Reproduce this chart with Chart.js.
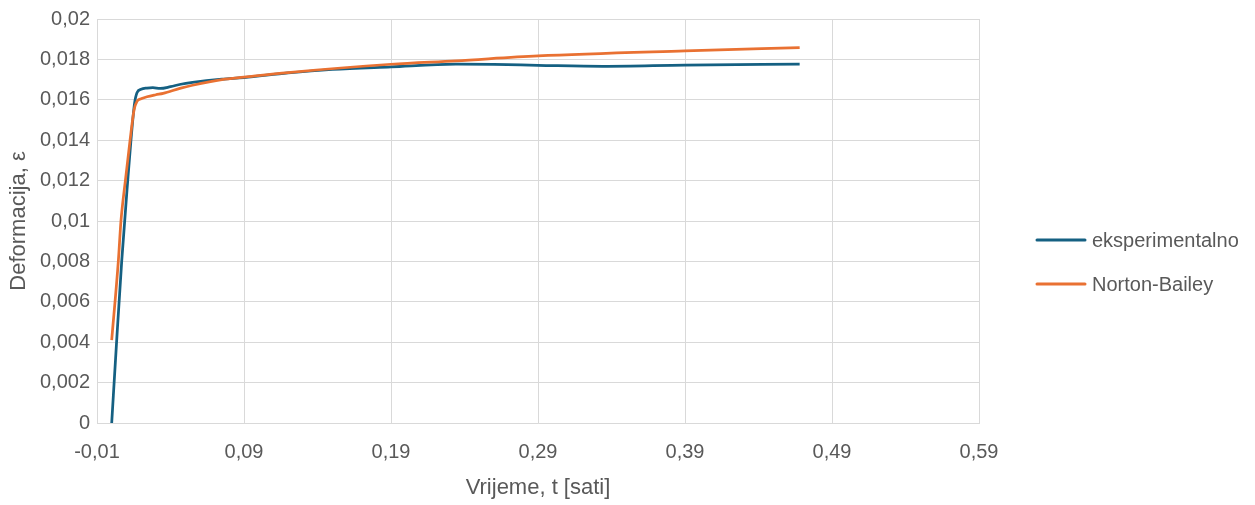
<!DOCTYPE html>
<html>
<head>
<meta charset="utf-8">
<script src="https://cdn.jsdelivr.net/npm/chart.js@4/dist/chart.umd.min.js"></script>
<style>
  html, body { margin: 0; padding: 0; background: #ffffff; }
  #wrap { width: 1255px; height: 505px; position: relative; }
</style>
</head>
<body>
<div id="wrap"><canvas id="c" width="1255" height="505"></canvas></div>
<script>
// ---- data ----
const seriesNames = ["eksperimentalno", "Norton-Bailey"];
const expTime   = [0, 0.0034, 0.0068, 0.0109, 0.0131, 0.0155, 0.0172, 0.020, 0.024, 0.028, 0.033, 0.040, 0.047, 0.055, 0.075, 0.09, 0.12, 0.15, 0.19, 0.234, 0.26, 0.29, 0.334, 0.39, 0.468];
const expStrain = [0, 0.0041, 0.0080, 0.0120, 0.0140, 0.0158, 0.01635, 0.01652, 0.01658, 0.01660, 0.01656, 0.01665, 0.01677, 0.01686, 0.01702, 0.0171, 0.01733, 0.0175, 0.01763, 0.01776, 0.01775, 0.01771, 0.01766, 0.01772, 0.01777];
const nbTime    = [0, 0.0045, 0.0063, 0.0093, 0.0125, 0.0152, 0.0172, 0.020, 0.024, 0.030, 0.035, 0.047, 0.055, 0.075, 0.09, 0.12, 0.19, 0.234, 0.29, 0.39, 0.468];
const nbStrain  = [0.0041, 0.0080, 0.0100, 0.0120, 0.0140, 0.0155, 0.01592, 0.01605, 0.01615, 0.01625, 0.01632, 0.01658, 0.01672, 0.01700, 0.01712, 0.01735, 0.01776, 0.01793, 0.01817, 0.01842, 0.01858];
const xTicks = [-0.01, 0.09, 0.19, 0.29, 0.39, 0.49, 0.59];
const yTicks = [0, 0.002, 0.004, 0.006, 0.008, 0.01, 0.012, 0.014, 0.016, 0.018, 0.02];
const colors = ["#156082", "#E97132"];

const toPts = (xs, ys) => xs.map((x, i) => ({ x: x, y: ys[i] }));
const fmt = v => String(+v.toFixed(3)).replace('.', ',');

const textColor = "#595959";
const gridColor = "#d9d9d9";
const fontFam = "'Liberation Sans', Arial, sans-serif";

const legendPlugin = {
  id: 'sideLegend',
  afterDraw(chart) {
    const ctx = chart.ctx;
    const x0 = 1037, x1 = 1085, tx = 1092;
    const ys = [240, 284];
    ctx.save();
    chart.data.datasets.forEach((ds, i) => {
      ctx.strokeStyle = ds.borderColor;
      ctx.lineWidth = 3;
      ctx.lineCap = 'round';
      ctx.beginPath();
      ctx.moveTo(x0, ys[i]);
      ctx.lineTo(x1, ys[i]);
      ctx.stroke();
      ctx.fillStyle = textColor;
      ctx.font = "20px " + fontFam;
      ctx.textBaseline = 'middle';
      ctx.textAlign = 'left';
      ctx.fillText(ds.label, tx, ys[i] + 1);
    });
    ctx.restore();
  }
};

new Chart(document.getElementById('c'), {
  type: 'line',
  data: {
    datasets: [
      { label: seriesNames[0], data: toPts(expTime, expStrain), borderColor: colors[0], backgroundColor: colors[0], borderWidth: 2.75, pointRadius: 0, cubicInterpolationMode: 'monotone', order: 1, fill: false },
      { label: seriesNames[1], data: toPts(nbTime, nbStrain), borderColor: colors[1], backgroundColor: colors[1], borderWidth: 2.75, pointRadius: 0, cubicInterpolationMode: 'monotone', order: 0, fill: false }
    ]
  },
  plugins: [legendPlugin],
  options: {
    responsive: false,
    animation: false,
    events: [],
    layout: { padding: { left: 0, right: 276, top: 18, bottom: 0 } },
    plugins: { legend: { display: false }, tooltip: { enabled: false } },
    scales: {
      x: {
        type: 'linear',
        min: -0.01, max: 0.59,
        afterBuildTicks: s => { s.ticks = xTicks.map(v => ({ value: v })); },
        afterFit: s => { s.height = 82; },
        grid: { color: gridColor, lineWidth: 1, drawTicks: false },
        border: { color: gridColor, width: 1 },
        ticks: { color: textColor, font: { size: 20, family: fontFam }, padding: 17, maxRotation: 0, autoSkip: false,
                 callback: v => v.toFixed(2).replace('.', ',') },
        title: { display: true, text: 'Vrijeme, t [sati]', color: textColor, font: { size: 22, family: fontFam }, padding: 4 }
      },
      y: {
        type: 'linear',
        min: 0, max: 0.02,
        afterBuildTicks: s => { s.ticks = yTicks.map(v => ({ value: v })); },
        afterFit: s => { s.width = 97; },
        grid: { color: gridColor, lineWidth: 1, drawTicks: false },
        border: { color: gridColor, width: 1 },
        ticks: { color: textColor, font: { size: 20, family: fontFam }, padding: 7, autoSkip: false, callback: v => fmt(v) },
        title: { display: true, text: 'Deformacija, ε', color: textColor, font: { size: 22, family: fontFam }, padding: 6 }
      }
    }
  }
});
</script>
</body>
</html>
